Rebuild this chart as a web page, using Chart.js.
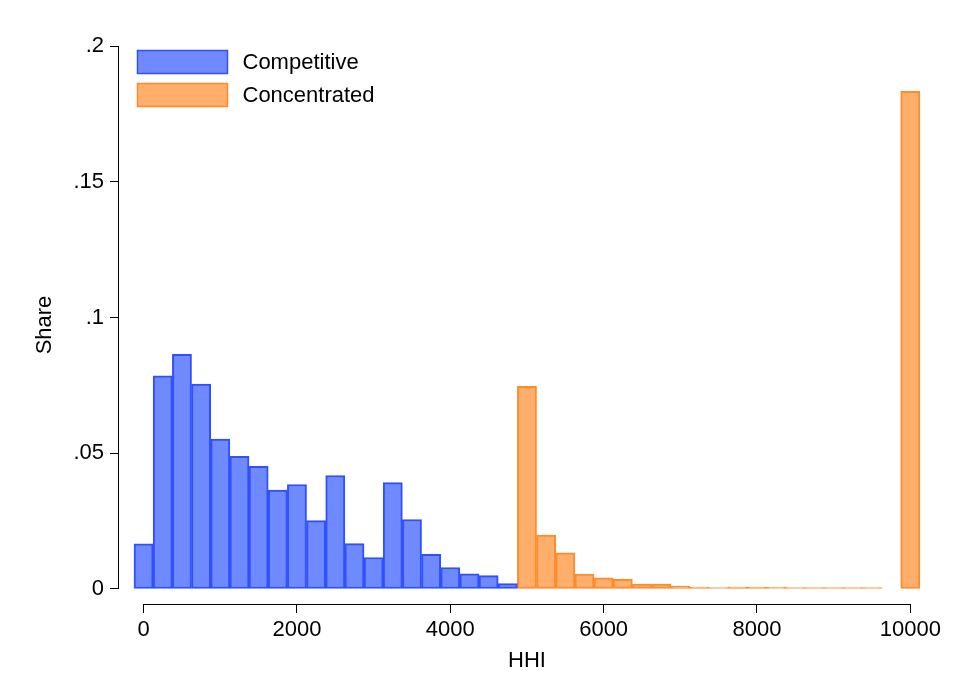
<!DOCTYPE html>
<html lang="en">
<head>
    <meta charset="UTF-8">
    <title>HHI histogram</title>
    <script src="https://cdn.jsdelivr.net/npm/chart.js"></script>
    <style>
        html, body { margin: 0; padding: 0; background: #fff; }
        #wrap { position: relative; width: 961px; height: 698px; }
    </style>
</head>
<body>
<div id="wrap">
    <canvas id="hhiChart" width="961" height="698"></canvas>
</div>
<script>
    // --- data (bin centres, width 250) ---
    const seriesNames = ['Competitive', 'Concentrated'];

    const competitiveBins = [0, 250, 500, 750, 1000, 1250, 1500, 1750, 2000, 2250,
        2500, 2750, 3000, 3250, 3500, 3750, 4000, 4250, 4500, 4750];
    const competitiveShare = [0.0166, 0.0785, 0.0864, 0.0755, 0.0552, 0.0489, 0.0452, 0.0364, 0.0385, 0.0252,
        0.0418, 0.0167, 0.0116, 0.0392, 0.0256, 0.0128, 0.0079, 0.0056, 0.0049, 0.0020];

    const concentratedBins = [5000, 5250, 5500, 5750, 6000, 6250, 6500, 6750, 7000, 7250,
        7500, 7750, 8000, 8250, 8500, 8750, 9000, 9250, 9500, 9750, 10000];
    const concentratedShare = [0.0746, 0.0199, 0.0133, 0.0055, 0.0041, 0.0036, 0.0018, 0.0018, 0.0011, 0.0007,
        0.0004, 0.0007, 0.0007, 0.0006, 0.0004, 0.0002, 0.0002, 0.0001, 0.0001, 0, 0.1833];

    const xTicks = [0, 2000, 4000, 6000, 8000, 10000];
    const yTicks = [0, 0.05, 0.1, 0.15, 0.2];

    const FONT = 'Arial, "Liberation Sans", sans-serif';

    const toPoints = (xs, ys) => xs.map((x, i) => ({ x: x, y: ys[i] === 0 ? null : ys[i] }));

    // Stata style: axis lines only span first..last tick
    const axisLines = {
        id: 'axisLines',
        afterDraw(chart) {
            const { ctx, chartArea, scales } = chart;
            ctx.save();
            ctx.strokeStyle = '#000';
            ctx.lineWidth = 1;
            ctx.beginPath();
            const yb = Math.round(chartArea.bottom) + 0.5;
            ctx.moveTo(scales.x.getPixelForValue(xTicks[0]), yb);
            ctx.lineTo(scales.x.getPixelForValue(xTicks[xTicks.length - 1]), yb);
            const xl = Math.round(chartArea.left) - 0.5;
            ctx.moveTo(xl, scales.y.getPixelForValue(yTicks[0]));
            ctx.lineTo(xl, scales.y.getPixelForValue(yTicks[yTicks.length - 1]));
            ctx.stroke();
            ctx.restore();
        }
    };

    // legend in the top-left of the plot
    const boxLegend = {
        id: 'boxLegend',
        afterDraw(chart) {
            const { ctx, chartArea } = chart;
            ctx.save();
            ctx.font = '22px ' + FONT;
            ctx.textBaseline = 'middle';
            chart.data.datasets.forEach((ds, i) => {
                const x = chartArea.left + 18.5;
                const y = chartArea.top + 4.5 + i * 33;
                ctx.fillStyle = ds.backgroundColor;
                ctx.fillRect(x, y, 90, 23);
                ctx.strokeStyle = ds.borderColor;
                ctx.lineWidth = 1.5;
                ctx.strokeRect(x, y, 90, 23);
                ctx.fillStyle = '#000';
                ctx.fillText(ds.label, x + 105, y + 12.5);
            });
            ctx.restore();
        }
    };

    const fmtShare = v => (v === 0 ? '0' : String(+v.toFixed(2)).replace(/^0/, ''));

    new Chart(document.getElementById('hhiChart'), {
        type: 'bar',
        data: {
            datasets: [{
                label: seriesNames[0],
                data: toPoints(competitiveBins, competitiveShare),
                backgroundColor: '#6f89ff',
                borderColor: '#3050ff',
                borderWidth: 2,
                borderSkipped: false,
                grouped: false,
                barPercentage: 1,
                categoryPercentage: 1
            }, {
                label: seriesNames[1],
                data: toPoints(concentratedBins, concentratedShare),
                backgroundColor: '#ffae6c',
                borderColor: '#ff8c2c',
                borderWidth: 2,
                borderSkipped: false,
                grouped: false,
                barPercentage: 1,
                categoryPercentage: 1,
                minBarLength: 1.5
            }]
        },
        options: {
            responsive: false,
            animation: false,
            layout: { padding: { left: 0, top: 46, right: 26, bottom: 0 } },
            plugins: {
                legend: { display: false },
                tooltip: { enabled: false }
            },
            scales: {
                x: {
                    type: 'linear',
                    offset: false,
                    min: -321,
                    max: 10322,
                    afterFit: s => { s.height = 698 - 604; },
                    afterBuildTicks: s => { s.ticks = xTicks.map(v => ({ value: v })); },
                    border: { display: false },
                    grid: { display: true, offset: false, drawOnChartArea: false, drawTicks: true, tickLength: 9, color: '#000', lineWidth: 1 },
                    ticks: { color: '#000', padding: 4, maxRotation: 0, font: { family: FONT, size: 22 }, callback: v => String(v) },
                    title: { display: true, text: 'HHI', color: '#000', font: { family: FONT, size: 22 }, padding: { top: 0, bottom: 24 } }
                },
                y: {
                    min: -0.00553,
                    max: 0.2,
                    afterFit: s => { s.width = 119; },
                    afterBuildTicks: s => { s.ticks = yTicks.map(v => ({ value: v })); },
                    border: { display: false },
                    grid: { display: true, drawOnChartArea: false, drawTicks: true, tickLength: 9, color: '#000', lineWidth: 1 },
                    ticks: { color: '#000', padding: 6, font: { family: FONT, size: 22 }, callback: v => fmtShare(v) },
                    title: { display: true, text: 'Share', color: '#000', font: { family: FONT, size: 22 }, padding: { top: 32, bottom: 0 } }
                }
            }
        },
        plugins: [axisLines, boxLegend]
    });
</script>
</body>
</html>
